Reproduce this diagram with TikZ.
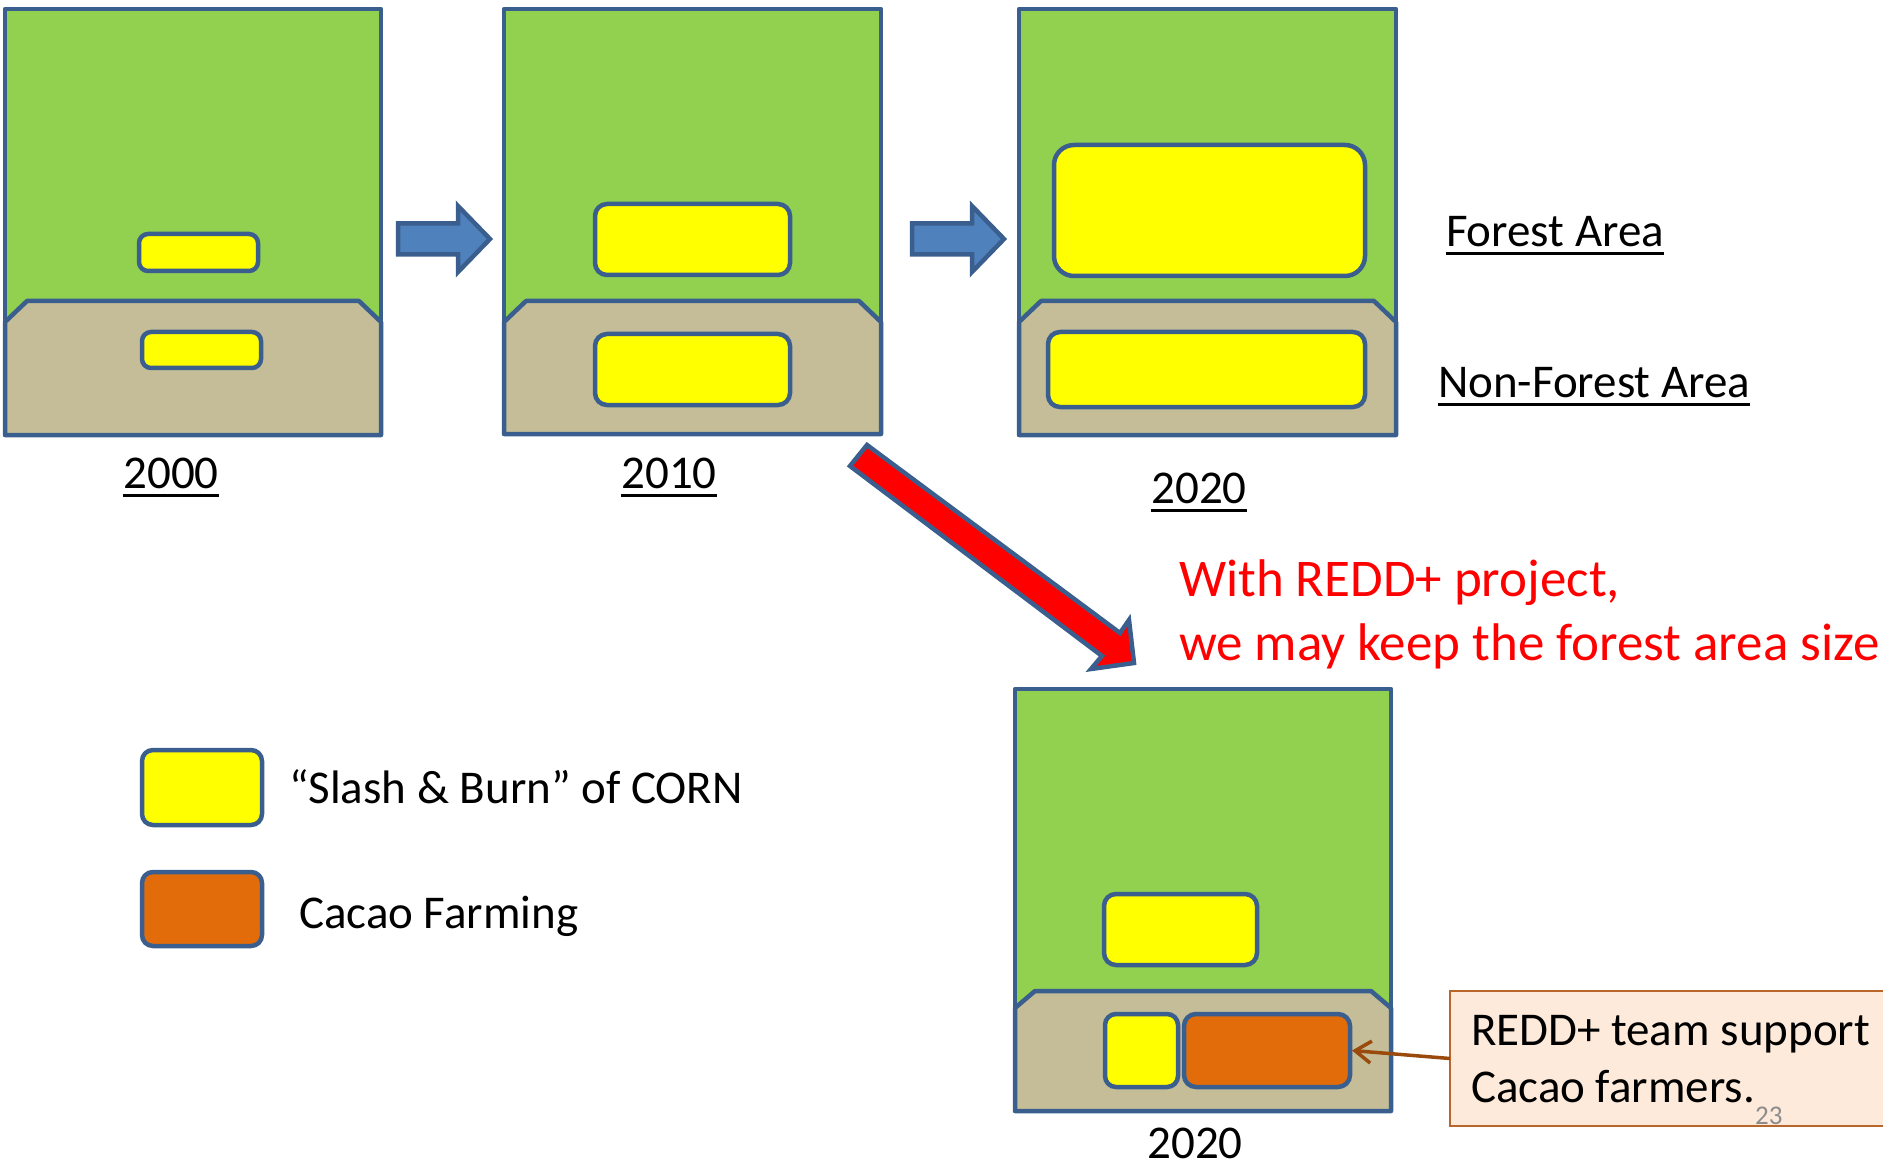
\documentclass[tikz,border=0pt]{standalone}
\usepackage{fontspec}
\setmainfont{Carlito}
\usetikzlibrary{arrows.meta}
\definecolor{forest}{HTML}{92D050}
\definecolor{land}{HTML}{C4BD97}
\definecolor{edgeblue}{HTML}{3A5F8E}
\definecolor{cornyellow}{HTML}{FFFF00}
\definecolor{cacaoorange}{HTML}{E36C0A}
\definecolor{arrowblue}{HTML}{4F81BD}
\definecolor{notefill}{HTML}{FDEADA}
\definecolor{noteedge}{HTML}{B9662A}
\definecolor{brownarrow}{HTML}{9A4A0C}
\definecolor{pagegray}{HTML}{8C8C8C}
\tikzset{
  landpoly/.style={fill=land, draw=edgeblue, line width=4.5pt, line join=round},
  frame/.style={draw=edgeblue, line width=4.5pt, line join=round},
  fieldbox/.style={draw=edgeblue, line width=4.5pt, rounded corners=#1, inner sep=0pt, outer sep=0pt},
  cornbox/.style={fieldbox=#1, fill=cornyellow},
  cacaobox/.style={fieldbox=#1, fill=cacaoorange},
  bigarrow/.style={fill=arrowblue, draw=edgeblue, line width=4.5pt, line join=miter},
  redarrow/.style={fill=red, draw=edgeblue, line width=4.5pt, line join=miter},
  txt/.style={inner sep=0pt, outer sep=0pt, anchor=base west, font=\fontsize{47pt}{57pt}\selectfont},
  yearlbl/.style={inner sep=0pt, outer sep=0pt, anchor=base, font=\fontsize{47pt}{57pt}\selectfont},
  uline/.style={draw=black, line width=3pt},
  redtxt/.style={inner sep=0pt, outer sep=0pt, anchor=base west, text=red, font=\fontsize{53pt}{64pt}\selectfont},
  notebox/.style={fill=notefill, draw=noteedge, line width=1.5pt, inner sep=0pt, outer sep=0pt, anchor=north west},
  brownarr/.style={draw=brownarrow, line width=3.5pt, -{Straight Barb[length=16pt,width=22pt]}},
}
\newcommand\landpanel[5]{%
  \fill[forest] (#1,#3) rectangle (#2,#5);
  \draw[landpoly] (#1,#4+21) -- (#1+22,#4) -- (#2-22,#4) -- (#2,#4+21) -- (#2,#5) -- (#1,#5) -- cycle;
  \draw[frame] (#1,#3) rectangle (#2,#5);
}
\begin{document}
\begin{tikzpicture}[x=1pt,y=-1pt]
\useasboundingbox (0,0) rectangle (1883,1166);
\clip (0,0) rectangle (1883,1166);

% ---- panel 2000
\landpanel{5}{381}{9}{301}{435}
\node[cornbox=9pt, minimum width=119pt, minimum height=37pt] (p1a) at (198.5,252.5) {};
\node[cornbox=9pt, minimum width=119pt, minimum height=36pt] (p1b) at (201.5,350) {};
\node[yearlbl] (y2000) at (171,488) {2000};
\draw[uline] ([yshift=-7pt]y2000.base west) -- ([yshift=-7pt]y2000.base east);

% ---- blue arrow 1
\draw[bigarrow] (398,223.5) -- (458,223.5) -- (458,206) -- (490,239) -- (458,272) -- (458,254.5) -- (398,254.5) -- cycle;

% ---- panel 2010
\landpanel{504}{881}{9}{301}{434}
\node[cornbox=12pt, minimum width=195pt, minimum height=71pt] (p2a) at (692.5,239.5) {};
\node[cornbox=12pt, minimum width=195pt, minimum height=71pt] (p2b) at (692.5,369.5) {};
\node[yearlbl] (y2010) at (669,488) {2010};
\draw[uline] ([yshift=-7pt]y2010.base west) -- ([yshift=-7pt]y2010.base east);

% ---- blue arrow 2
\draw[bigarrow] (912,223.5) -- (972,223.5) -- (972,206) -- (1004,239) -- (972,272) -- (972,254.5) -- (912,254.5) -- cycle;

% ---- panel 2020 (top)
\landpanel{1019}{1396}{9}{301}{435}
\node[cornbox=20pt, minimum width=311pt, minimum height=131pt] (p3a) at (1209.5,210.5) {};
\node[cornbox=12pt, minimum width=317pt, minimum height=75pt] (p3b) at (1206.5,369.5) {};
\node[yearlbl] (y2020) at (1199,503) {2020};
\draw[uline] ([yshift=-7pt]y2020.base west) -- ([yshift=-7pt]y2020.base east);

% ---- area labels
\node[txt] (forestlbl) at (1446,247) {Forest Area};
\draw[uline] ([yshift=-7pt]forestlbl.base west) -- ([yshift=-7pt]forestlbl.base east);
\node[txt] (nonforestlbl) at (1438,397) {Non-Forest Area};
\draw[uline] ([yshift=-7pt]nonforestlbl.base west) -- ([yshift=-7pt]nonforestlbl.base east);

% ---- red arrow
\draw[redarrow] (867,445) -- (1120,633) -- (1129,620) -- (1134,663) -- (1091,669) -- (1102,656) -- (850,466) -- cycle;

% ---- red text
\node[redtxt] (redd1) at (1179,596) {With REDD+ project,};
\node[redtxt] (redd2) at (1179,660) {we may keep the forest area size};

% ---- panel 2020 (with REDD+)
\fill[forest] (1015,689) rectangle (1391,1111);
\draw[landpoly] (1015,1008) -- (1035,991) -- (1371,991) -- (1391,1008) -- (1391,1111) -- (1015,1111) -- cycle;
\draw[frame] (1015,689) rectangle (1391,1111);
\node[cornbox=12pt, minimum width=153pt, minimum height=71pt] (p4a) at (1180.5,929.5) {};
\node[cornbox=11pt, minimum width=73pt, minimum height=73pt] (p4b) at (1141.5,1050.5) {};
\node[cacaobox=12pt, minimum width=166pt, minimum height=73pt] (p4c) at (1267,1050.5) {};
\node[yearlbl] (y2020b) at (1195,1158) {2020};

% ---- legend
\node[cornbox=11pt, minimum width=120pt, minimum height=75pt] (legcorn) at (202,787.5) {};
\node[txt] (legcorntxt) at (289,803) {“Slash \& Burn” of CORN};
\node[cacaobox=11pt, minimum width=120pt, minimum height=74pt] (legcacao) at (202,909) {};
\node[txt] (legcacaotxt) at (299,928) {Cacao Farming};

% ---- note box
\node[notebox, minimum width=460pt, minimum height=135pt] (note) at (1450,991) {};
\node[txt] (note1) at (1471,1045) {REDD+ team support};
\node[txt] (note2) at (1471,1102) {Cacao farmers.};
\draw[brownarr] (note.west) -- ([xshift=2pt]p4c.east);

% ---- page number
\node[inner sep=0pt, anchor=base west, text=pagegray, font=\fontsize{27pt}{32pt}\selectfont] (pagenum) at (1755,1124) {23};
\end{tikzpicture}
\end{document}
